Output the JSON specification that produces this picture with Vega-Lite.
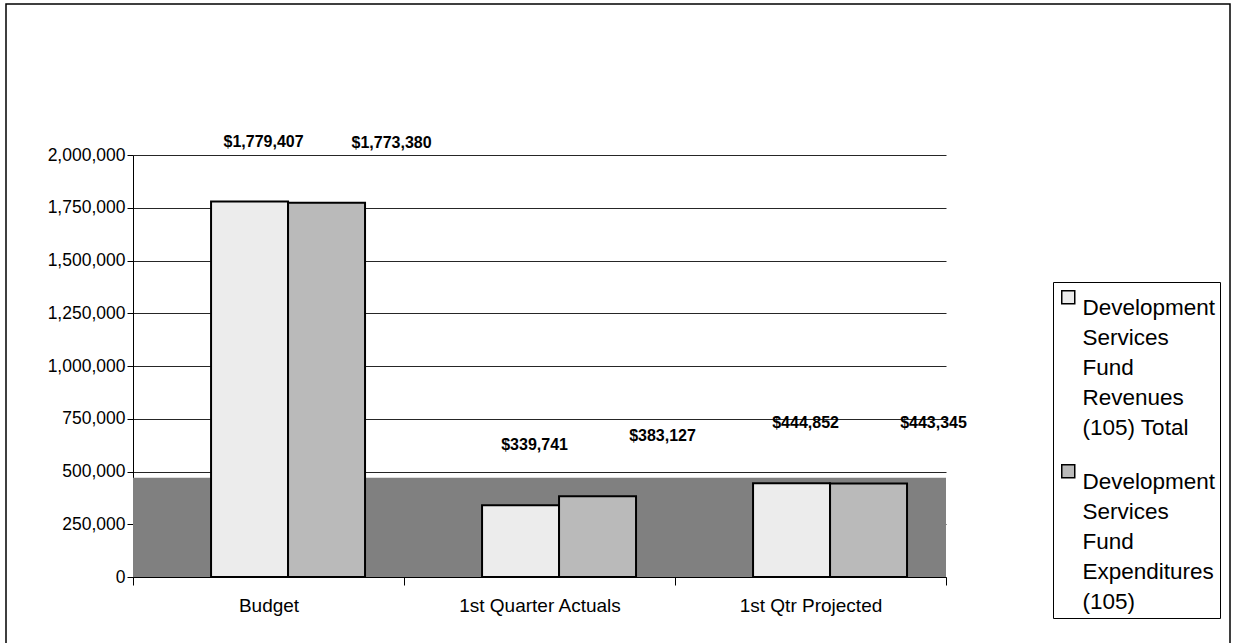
{
  "$schema": "https://vega.github.io/schema/vega-lite/v6.json",
  "width": 1224,
  "height": 641,
  "autosize": {"type": "none"},
  "padding": {"left": 6, "top": 4, "right": 3, "bottom": 0},
  "background": "white",
  "config": {
    "view": {"stroke": "#000", "strokeWidth": 1.5},
    "font": "Liberation Sans",
    "style": {"guide-label": {"lineHeight": 30}}
  },
  "datasets": {
    "bars": [
      {"category": "Budget", "series": "Development Services Fund Revenues (105) Total", "value": 1779407},
      {"category": "Budget", "series": "Development Services Fund Expenditures (105)", "value": 1773380},
      {"category": "1st Quarter Actuals", "series": "Development Services Fund Revenues (105) Total", "value": 339741},
      {"category": "1st Quarter Actuals", "series": "Development Services Fund Expenditures (105)", "value": 383127},
      {"category": "1st Qtr Projected", "series": "Development Services Fund Revenues (105) Total", "value": 444852},
      {"category": "1st Qtr Projected", "series": "Development Services Fund Expenditures (105)", "value": 443345}
    ],
    "floor": [
      {"category": "Budget", "base": 0, "top": 470000},
      {"category": "1st Quarter Actuals", "base": 0, "top": 470000},
      {"category": "1st Qtr Projected", "base": 0, "top": 470000}
    ]
  },
  "encoding": {
    "x": {
      "field": "category",
      "type": "nominal",
      "sort": ["Budget", "1st Quarter Actuals", "1st Qtr Projected"],
      "scale": {"range": [127, 940], "paddingInner": 0, "paddingOuter": 0},
      "axis": {
        "title": null,
        "offset": -68,
        "labelAngle": 0,
        "labelFontSize": 19,
        "labelColor": "#000",
        "tickBand": "extent",
        "tickSize": 8,
        "tickColor": "#000",
        "domainColor": "#000",
        "labelPadding": 11,
        "grid": false
      }
    }
  },
  "layer": [
    {
      "data": {"name": "floor"},
      "mark": {"type": "rect", "fill": "#808080"},
      "encoding": {
        "y": {"field": "base", "type": "quantitative", "scale": {"domain": [0, 2000000], "nice": false, "range": [573, 151]}},
        "y2": {"field": "top"}
      }
    },
    {
      "data": {"name": "bars"},
      "encoding": {
        "xOffset": {
          "field": "series",
          "type": "nominal",
          "sort": ["Development Services Fund Revenues (105) Total", "Development Services Fund Expenditures (105)"],
          "scale": {"paddingInner": 0, "paddingOuter": 0.76, "align": 0.667}
        },
        "y": {
          "field": "value",
          "type": "quantitative",
          "scale": {"domain": [0, 2000000], "nice": false, "range": [573, 151]},
          "axis": {
            "title": null,
            "offset": -127,
            "values": [0, 250000, 500000, 750000, 1000000, 1250000, 1500000, 1750000, 2000000],
            "format": ",.0f",
            "labelFontSize": 17.5,
            "labelColor": "#000",
            "tickSize": 6,
            "tickColor": "#000",
            "domainColor": "#000",
            "grid": true,
            "gridColor": "#000",
            "gridOpacity": 0.85,
            "labelPadding": 2
          }
        }
      },
      "layer": [
        {
          "mark": {"type": "bar", "stroke": "#000", "strokeWidth": 2},
          "encoding": {
            "fill": {
              "field": "series",
              "type": "nominal",
              "sort": ["Development Services Fund Revenues (105) Total", "Development Services Fund Expenditures (105)"],
              "scale": {"range": ["#ececec", "#bababa"]},
              "legend": {
                "title": null,
                "orient": "none",
                "legendX": 1047,
                "legendY": 278,
                "direction": "vertical",
                "strokeColor": "#000",
                "fillColor": "#fff",
                "padding": 4,
                "symbolType": "square",
                "symbolSize": 169,
                "symbolStrokeColor": "#000",
                "symbolStrokeWidth": 1.5,
                "labelFontSize": 22.5,
                "labelColor": "#000",
                "labelLimit": 200,
                "labelBaseline": "top",
                "labelOffset": 3,
                "rowPadding": 20,
                "labelExpr": "datum.label == 'Development Services Fund Revenues (105) Total' ? ['Development', 'Services', 'Fund', 'Revenues', '(105) Total'] : ['Development', 'Services', 'Fund', 'Expenditures', '(105)']"
              }
            }
          }
        },
        {
          "transform": [{"filter": "datum.series == 'Development Services Fund Revenues (105) Total'"}],
          "mark": {"type": "text", "fontWeight": "bold", "fontSize": 16, "baseline": "middle", "dy": -60, "dx": 14, "color": "#000"},
          "encoding": {
            "text": {"field": "value", "type": "quantitative", "format": "$,.0f"}
          }
        },
        {
          "transform": [{"filter": "datum.series == 'Development Services Fund Expenditures (105)'"}],
          "mark": {"type": "text", "fontWeight": "bold", "fontSize": 16, "baseline": "middle", "dy": -60, "dx": 65, "color": "#000"},
          "encoding": {
            "text": {"field": "value", "type": "quantitative", "format": "$,.0f"}
          }
        }
      ]
    }
  ]
}
